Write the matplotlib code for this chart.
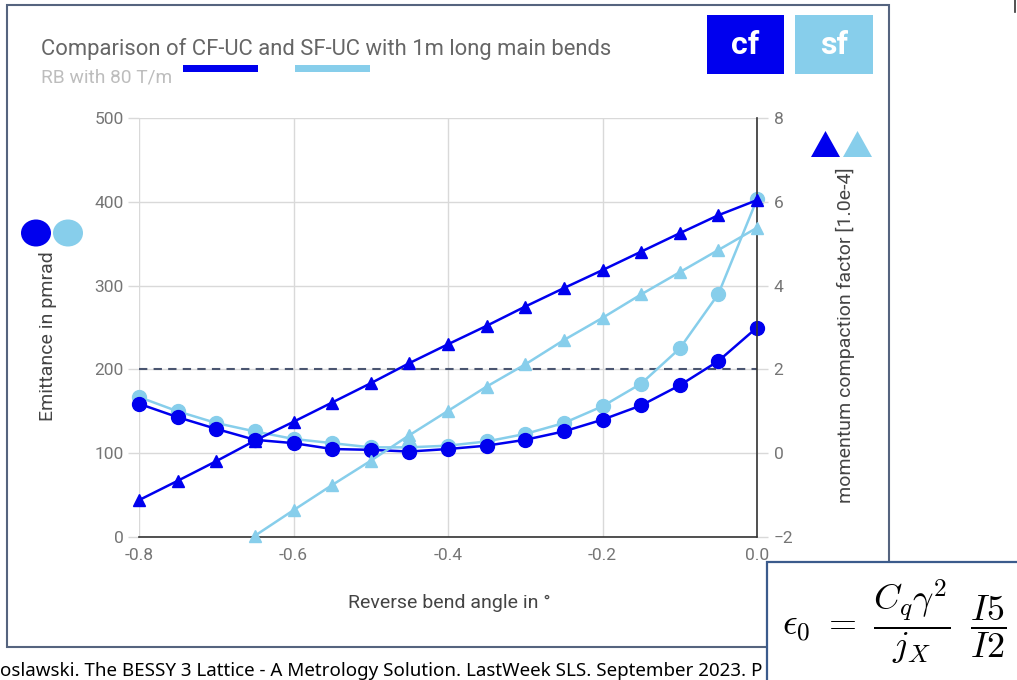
import matplotlib
matplotlib.use("Agg")
import matplotlib.pyplot as plt
from matplotlib.patches import Rectangle, Ellipse, Polygon
import numpy as np

plt.rcParams['font.family'] = ['Roboto', 'DejaVu Sans']
plt.rcParams['mathtext.fontset'] = 'cm'

# ---------------- data ----------------
angle = [-0.80, -0.75, -0.70, -0.65, -0.60, -0.55, -0.50, -0.45, -0.40,
         -0.35, -0.30, -0.25, -0.20, -0.15, -0.10, -0.05, 0.00]
emit_cf = [159, 143, 129, 116, 112, 105, 104, 102, 105, 109, 116, 126, 140,
           157, 181, 210, 250]
emit_sf = [167, 150, 136, 126, 117, 112, 107, 107, 109, 114, 123, 136, 156,
           183, 225, 290, 403]
alpha_cf = [-1.12, -0.66, -0.19, 0.30, 0.75, 1.21, 1.67, 2.15, 2.60, 3.04,
            3.50, 3.94, 4.37, 4.81, 5.25, 5.68, 6.04]
alpha_sf = [None, None, None, -1.97, -1.36, -0.76, -0.18, 0.43, 1.01, 1.59,
            2.12, 2.70, 3.23, 3.79, 4.32, 4.85, 5.38]
threshold_emit = 200

x_ticks = [-0.8, -0.6, -0.4, -0.2, 0.0]
x_tick_labels = ['-0.8', '-0.6', '-0.4', '-0.2', '0.0']
left_ticks = [0, 100, 200, 300, 400, 500]
right_ticks = [-2, 0, 2, 4, 6, 8]

title = 'Comparison of CF-UC and SF-UC with 1m long main bends'
subtitle = 'RB with 80 T/m'
xlabel = 'Reverse bend angle in °'
ylabel_left = 'Emittance in pmrad'
ylabel_right = 'momentum compaction factor [1.0e-4]'
footer = 'oslawski. The BESSY 3 Lattice - A Metrology Solution. LastWeek SLS. September 2023. P'

C_CF = '#0000ee'
C_SF = '#87ceeb'
TXT = '#757575'
LBL = '#444444'
GRID = '#d9d9d9'

W, H = 1017, 680
fig = plt.figure(figsize=(W / 100, H / 100), dpi=100)
fig.patch.set_facecolor('white')

def fx(px):
    return px / W

def fy(py):
    return 1 - py / H

# ---------------- main axes ----------------
ax = fig.add_axes([fx(139), fy(537), fx(757) - fx(139), fy(118) - fy(537)])
ax.set_xlim(-0.8, 0.0)
ax.set_ylim(0, 500)
ax.set_xticks(x_ticks)
ax.set_xticklabels(x_tick_labels)
ax.set_yticks(left_ticks)
ax.grid(True, color=GRID, lw=1)
ax.set_axisbelow(True)
for s in ['top', 'left', 'right']:
    ax.spines[s].set_visible(False)
ax.spines['bottom'].set_color('#333333')
ax.spines['bottom'].set_linewidth(1.2)
ax.tick_params(axis='y', length=8, color=GRID, width=1, labelsize=12.5,
               labelcolor=TXT, pad=3)
ax.tick_params(axis='x', length=0, labelsize=12.5, labelcolor=TXT, pad=8)

ax.axhline(threshold_emit, ls=(0, (4, 3)), color='#4a5570', lw=1.5, zorder=2)

ax.plot(angle, emit_cf, '-o', color=C_CF, lw=1.8, ms=10, clip_on=False, zorder=4)
ax.plot(angle, emit_sf, '-o', color=C_SF, lw=1.8, ms=10, clip_on=False, zorder=3)

ax2 = ax.twinx()
ax2.set_ylim(-2, 8)
ax2.set_yticks(right_ticks)
for s in ['top', 'left', 'bottom']:
    ax2.spines[s].set_visible(False)
ax2.spines['right'].set_color('#333333')
ax2.spines['right'].set_linewidth(1.2)
ax2.tick_params(axis='y', length=8, color=GRID, width=1, labelsize=12.5,
                labelcolor=TXT, pad=4)
a_sf = np.array([np.nan if v is None else v for v in alpha_sf], dtype=float)
ax2.plot(angle, alpha_cf, '-^', color=C_CF, lw=1.8, ms=8, clip_on=False, zorder=4)
ax2.plot(angle, a_sf, '-^', color=C_SF, lw=1.8, ms=8, clip_on=False, zorder=3)

# ---------------- overlay for decorations ----------------
ov = fig.add_axes([0, 0, 1, 1], zorder=5)
ov.set_xlim(0, W)
ov.set_ylim(H, 0)
ov.axis('off')
ov.patch.set_alpha(0)

# outer chart frame
ov.add_patch(Rectangle((7, 5), 882, 642, fill=False, ec='#55647f', lw=1.5, zorder=1))

ov.text(41, 55, title, fontsize=15.8, color='#666666', va='baseline', ha='left')
ov.text(41, 83, subtitle, fontsize=13.8, color='#bdbdbd', va='baseline', ha='left')
ov.add_patch(Rectangle((183, 65), 75, 7, color=C_CF, lw=0))
ov.add_patch(Rectangle((295, 65), 75, 7, color=C_SF, lw=0))

ov.add_patch(Rectangle((707, 15), 77, 59, color=C_CF, lw=0))
ov.add_patch(Rectangle((795, 15), 78, 59, color=C_SF, lw=0))
ov.text(745.5, 45, 'cf', fontsize=23, fontweight='bold', color='white',
        ha='center', va='center')
ov.text(834, 45, 'sf', fontsize=23, fontweight='bold', color='white',
        ha='center', va='center')

ov.add_patch(Ellipse((36, 233), 30, 27, color=C_CF, lw=0))
ov.add_patch(Ellipse((68, 233), 30, 27, color=C_SF, lw=0))
ov.add_patch(Polygon([(811, 157), (825.5, 131), (840, 157)], closed=True, color=C_CF, lw=0))
ov.add_patch(Polygon([(843, 157), (857.5, 131), (872, 157)], closed=True, color=C_SF, lw=0))

ov.text(48, 336, ylabel_left, rotation=90, fontsize=14, color=LBL,
        ha='center', va='center')
ov.text(845, 335, ylabel_right, rotation=90, fontsize=14, color=LBL,
        ha='center', va='center')
ov.text(449, 603, xlabel, fontsize=14, color=LBL, ha='center', va='center')

ov.text(0, 676, footer, fontsize=13.5, color='black', family=['Noto Sans', 'DejaVu Sans'],
        ha='left', va='baseline', zorder=3)

# formula box
ov.add_patch(Rectangle((767, 562), 260, 130, fc='white', ec='#3b5b8c', lw=1.6, zorder=6,
                       clip_on=False))
ov.text(782, 622, r'$\epsilon_0\ =\ \dfrac{C_q\gamma^2}{j_X}\;\;\dfrac{I5}{I2}$',
        fontsize=26, color='black', ha='left', va='center', zorder=7)

# small mark at top right
ov.plot([1015, 1015], [0, 12], color='#333333', lw=1.2)

fig.savefig('out.png', dpi=100)
